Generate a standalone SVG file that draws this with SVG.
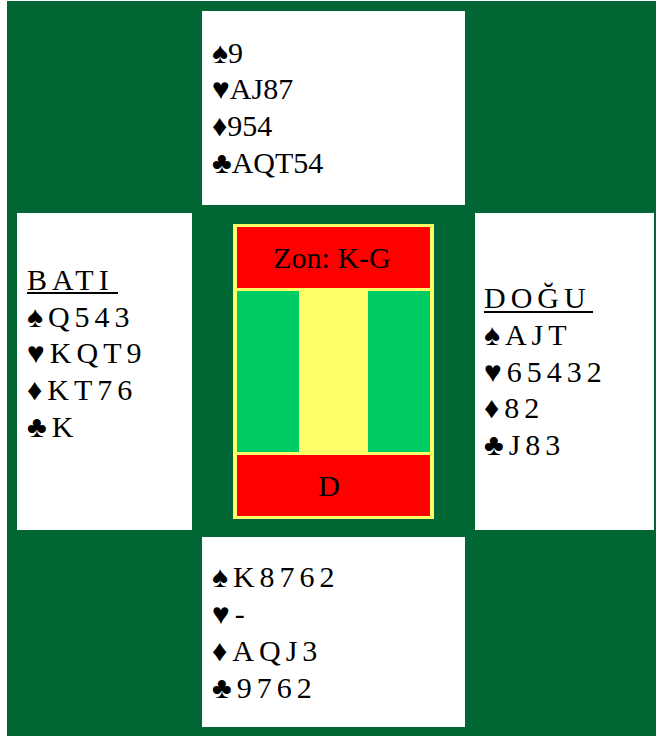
<svg xmlns="http://www.w3.org/2000/svg" width="656" height="736" viewBox="0 0 656 736">
<style>
.hand{font-family:"Liberation Serif","Times New Roman",serif;font-size:30px;fill:#000}
.sp{letter-spacing:5px}
.box{fill:#fff}
</style>
<rect x="0" y="0" width="656" height="736" fill="#fff"/>
<rect x="7" y="1" width="649" height="735" fill="#006633"/>
<g id="north">
<rect class="box" x="202" y="11" width="263" height="194"/>
<text class="hand" x="212"><tspan x="212" y="63">♠9</tspan><tspan x="212" y="99">♥AJ87</tspan><tspan x="212" y="136">♦954</tspan><tspan x="212" y="173">♣AQT54</tspan></text>
</g>
<g id="west">
<rect class="box" x="17" y="213" width="175" height="317"/>
<text class="hand sp" x="27" y="290">BATI</text>
<rect x="27" y="292" width="91" height="2" fill="#000"/>
<text class="hand sp"><tspan x="27" y="327">♠Q543</tspan><tspan x="27" y="363">♥KQT9</tspan><tspan x="27" y="400">♦KT76</tspan><tspan x="27" y="437">♣K</tspan></text>
</g>
<g id="east">
<rect class="box" x="475" y="213" width="179" height="317"/>
<text class="hand sp" x="484" y="308">DOĞU</text>
<rect x="484" y="311" width="109" height="2" fill="#000"/>
<text class="hand sp"><tspan x="484" y="345">♠AJT</tspan><tspan x="484" y="382">♥65432</tspan><tspan x="484" y="418">♦82</tspan><tspan x="484" y="455">♣J83</tspan></text>
</g>
<g id="south">
<rect class="box" x="202" y="537" width="263" height="190"/>
<text class="hand sp"><tspan x="212" y="587">♠K8762</tspan><tspan x="212" y="624">♥-</tspan><tspan x="212" y="661">♦AQJ3</tspan><tspan x="212" y="698">♣9762</tspan></text>
</g>
<g id="board">
<rect x="233" y="224" width="201" height="295" fill="#ffff66"/>
<rect x="237" y="227" width="193" height="61" fill="#ff0000"/>
<rect x="237" y="291" width="62" height="161" fill="#00cc66"/>
<rect x="368" y="291" width="62" height="161" fill="#00cc66"/>
<rect x="237" y="455" width="193" height="61" fill="#ff0000"/>
<text class="hand" x="332" y="268" text-anchor="middle">Zon: K-G</text>
<text class="hand" x="329" y="496" text-anchor="middle">D</text>
</g>
<g id="connectors"/>
</svg>
